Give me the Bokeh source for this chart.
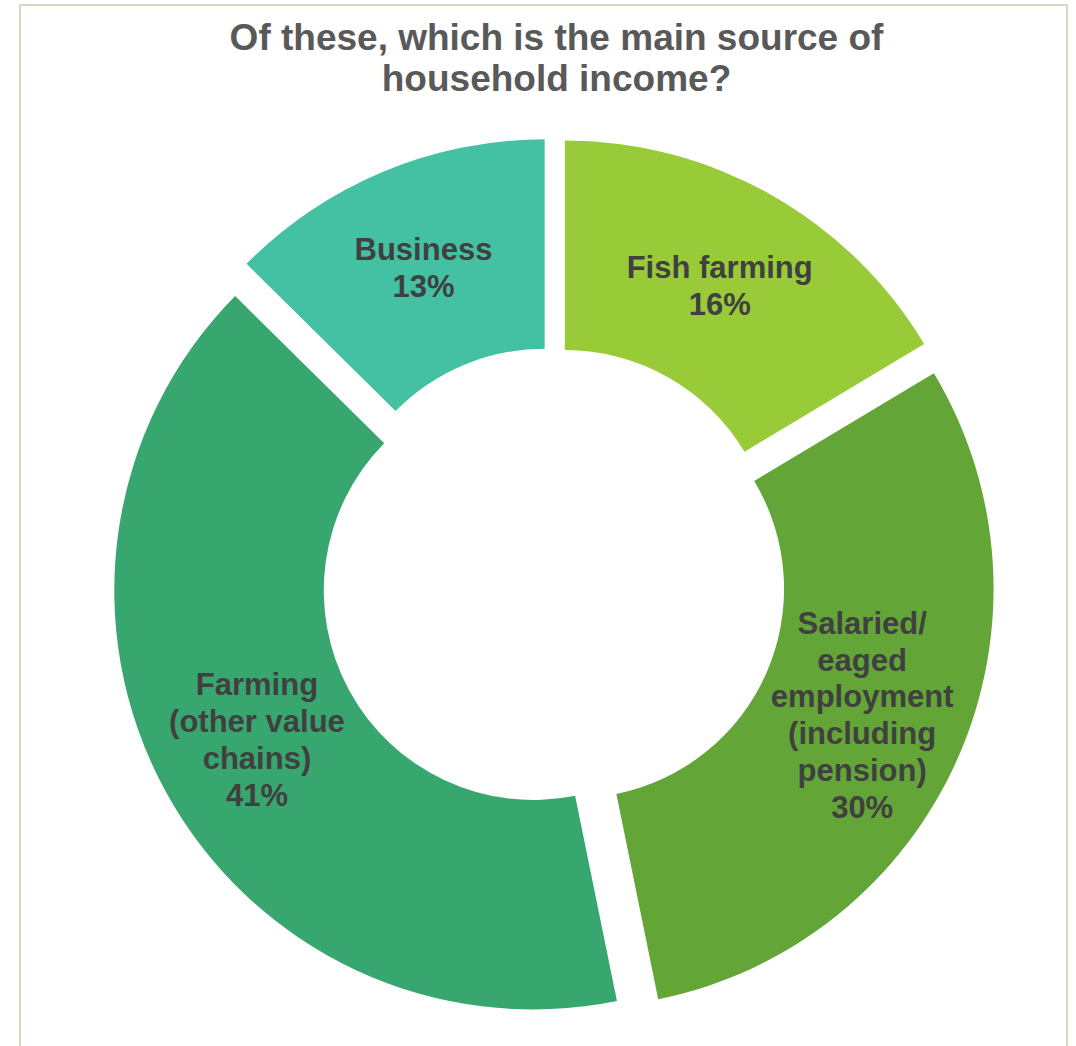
import math
from bokeh.plotting import figure
from bokeh.models import Range1d, ColumnDataSource
from bokeh.core.properties import value
from bokeh.embed import file_html
from bokeh.resources import INLINE

# ---- data ----
title_lines = ["Of these, which is the main source of", "household income?"]
categories = ["Fish farming",
              "Salaried/ eaged employment (including pension)",
              "Farming (other value chains)",
              "Business"]
label_lines = [["Fish farming"],
               ["Salaried/", "eaged", "employment", "(including", "pension)"],
               ["Farming", "(other value", "chains)"],
               ["Business"]]
shares = [16.4, 30.4, 40.6, 12.6]
colors = ["#99CB38", "#63A537", "#37A76F", "#44C1A3"]

# ---- geometry / style ----
R_OUT = 419
R_IN = 0.5 * R_OUT
EXPLODE = 23
LINE_H = 36.8
FONT = value("Liberation Sans")

p = figure(width=1076, height=1046,
           x_range=Range1d(-553, 523), y_range=Range1d(-467, 579),
           output_backend="svg", toolbar_location=None,
           x_axis_location=None, y_axis_location=None,
           min_border=0)
p.grid.visible = False
p.outline_line_color = None
p.background_fill_color = "white"
p.border_fill_color = "white"

# chart frame (left, top, right)
p.line(x=[-533.5, -533.5, 513.5, 513.5], y=[-490, 574.5, 574.5, -490],
       line_color="#D8D6BC", line_width=2)

total = sum(shares)
wx, wy, st, en = [], [], [], []
lab_x, lab_y, lab_t = [], [], []
cum = 0.0
for i, s in enumerate(shares):
    t0 = cum / total * 360.0
    cum += s
    t1 = cum / total * 360.0
    mid = math.radians((t0 + t1) / 2)
    cx = EXPLODE * math.sin(mid)
    cy = EXPLODE * math.cos(mid)
    wx.append(cx)
    wy.append(cy)
    st.append(math.radians(90 - t1))
    en.append(math.radians(90 - t0))
    lr = (R_OUT + R_IN) / 2 + EXPLODE
    lx = lr * math.sin(mid)
    ly = lr * math.cos(mid)
    lines = label_lines[i] + [f"{round(s)}%"]
    n = len(lines)
    for j, t in enumerate(lines):
        lab_x.append(lx)
        lab_y.append(ly + ((n - 1) / 2 - j) * LINE_H)
        lab_t.append(t)

src = ColumnDataSource(dict(x=wx, y=wy, start=st, end=en, color=colors, cat=categories))
p.annular_wedge(x="x", y="y", inner_radius=R_IN, outer_radius=R_OUT,
                start_angle="start", end_angle="end", direction="anticlock",
                fill_color="color", line_color=None, source=src)

p.text(x=lab_x, y=lab_y, text=lab_t, text_font=FONT, text_font_style="bold",
       text_font_size="31px", text_color="#404040",
       text_align="center", text_baseline="middle")

# title
p.text(x=[3, 3], y=[542, 501], text=title_lines, text_font=FONT,
       text_font_style="bold", text_font_size="37px", text_color="#595959",
       text_align="center", text_baseline="middle")

open("out.html", "w").write(file_html(p, INLINE))
